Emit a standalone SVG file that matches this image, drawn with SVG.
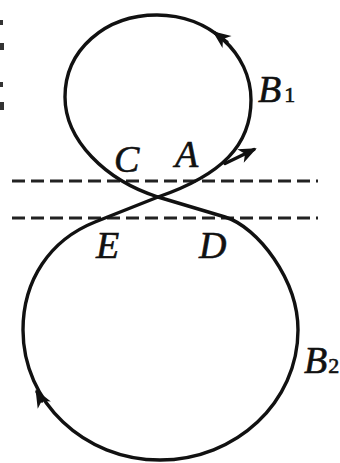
<svg xmlns="http://www.w3.org/2000/svg" width="340" height="463" viewBox="0 0 340 463">
  <style>
    .curve { fill: none; stroke: #111; stroke-width: 3.4; stroke-linecap: round; stroke-linejoin: round; }
    .guide { fill: none; stroke: #222; stroke-width: 3.2; stroke-dasharray: 13 6; }
    .lbl { font-family: "Liberation Serif", "Times New Roman", serif; font-style: italic; font-size: 38px; fill: #111; stroke: #111; stroke-width: 0.6; }
    .sub { font-style: normal; font-size: 22px; }
    .frag { fill: #333; }
  </style>
  <defs>
    <marker id="ah" markerUnits="userSpaceOnUse" viewBox="-18 -9 22 18" markerWidth="22" markerHeight="18" refX="0" refY="0" orient="auto" overflow="visible">
      <path d="M3,0 L-15,-7.5 L-10,0 L-15,7.5 Z" fill="#111"/>
    </marker>
  </defs>
  <rect x="0" y="0" width="340" height="463" fill="#ffffff"/>

  <g id="edge-fragments">
    <rect class="frag" x="0" y="20" width="3" height="5"/>
    <rect class="frag" x="0" y="43" width="4" height="7"/>
    <rect class="frag" x="0" y="82" width="3" height="5"/>
    <rect class="frag" x="0" y="102" width="4" height="8"/>
  </g>

  <g id="boundaries">
    <line class="guide" x1="12" y1="181" x2="318" y2="181"/>
    <line class="guide" x1="12" y1="218" x2="318" y2="218"/>
  </g>

  <g id="connectors">
    <path id="loop-upper" class="curve" d="M158,197 C222,175 251,145 251,100 C251,53 209,15 157,15 C105,15 65,50 65,97 C65,140 105,180 158,197"/>
    <path id="loop-lower" class="curve" d="M158,197 L225,217 C258,227 298,280 298,330 C298,402 236,460 160,460 C84,460 23,402 23,330 C23,280 50,240 95,222 L158,197"/>
    <path class="curve" d="M227,42 L215,33" marker-end="url(#ah)"/>
    <path class="curve" d="M225,163.5 L254,149.5" marker-end="url(#ah)"/>
    <path class="curve" d="M42,401 L37,392" marker-end="url(#ah)"/>
  </g>

  <g id="labels">
    <text class="lbl" x="114" y="172">C</text>
    <text class="lbl" x="175" y="167">A</text>
    <text class="lbl" x="96" y="258">E</text>
    <text class="lbl" x="199" y="258">D</text>
    <text class="lbl" x="258" y="102">B<tspan class="sub" dx="3">1</tspan></text>
    <text class="lbl" x="304" y="373">B<tspan class="sub" dx="1" font-size="18">2</tspan></text>
  </g>
</svg>
